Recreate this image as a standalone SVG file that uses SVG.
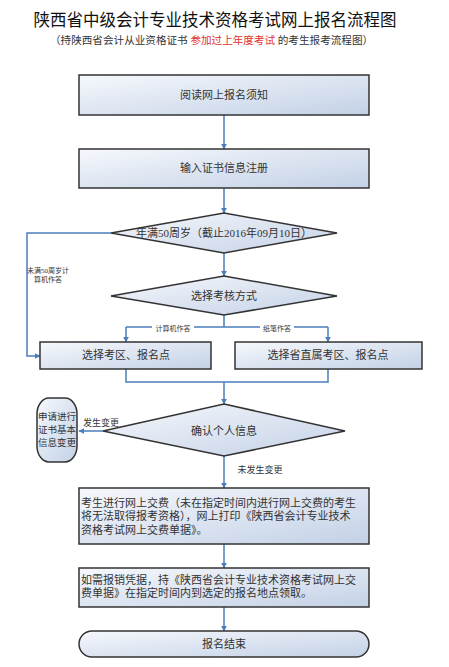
<svg xmlns="http://www.w3.org/2000/svg" width="449" height="667" viewBox="0 0 449 667">
<defs>
<linearGradient id="g" x1="0" y1="0" x2="1" y2="1">
<stop offset="0" stop-color="#f6f8fc"/>
<stop offset="1" stop-color="#c3d1e6"/>
</linearGradient>
<marker id="a" viewBox="0 0 10 10" refX="9" refY="5" markerWidth="4" markerHeight="4" orient="auto">
<path d="M0,0 L10,5 L0,10 z" fill="#4a7ebb"/>
</marker>
</defs>
<style>
.n{fill:url(#g);stroke:#333;stroke-width:1.5}
.t{font-family:"Liberation Serif","Noto Sans CJK SC",serif;font-size:11px;fill:#333}
.c{text-anchor:middle}
.s{font-family:"Liberation Serif","Noto Sans CJK SC",serif;font-size:7px;fill:#333}
.l{fill:none;stroke:#4a7ebb;stroke-width:1.5}
.e{marker-end:url(#a)}
</style>
<rect width="449" height="667" fill="#fff"/>
<g id="title">
<text x="215" y="26" class="c" style="font-family:'Liberation Serif','Noto Sans CJK SC',serif;font-size:16.5px;fill:#111">陕西省中级会计专业技术资格考试网上报名流程图</text>
<text x="50" y="44" style="font-family:'Liberation Serif','Noto Sans CJK SC',serif;font-size:10.6px;fill:#333">（持陕西省会计从业资格证书 <tspan fill="#e03030">参加过上年度考试</tspan> 的考生报考流程图）</text>
</g>
<g id="connectors">
<path class="l e" d="M224,115 V149"/>
<path class="l e" d="M224,188 V213"/>
<path class="l e" d="M224,253 V276"/>
<path class="l" d="M224,315 V327 M126,327 H328"/>
<path class="l e" d="M126,327 V342"/>
<path class="l e" d="M328,327 V342"/>
<path class="l e" d="M111,233 H27 V356 H40"/>
<path class="l" d="M126,369 V382 H328 V369"/>
<path class="l e" d="M224,382 V404"/>
<path class="l e" d="M103,431 H79"/>
<path class="l e" d="M224,456 V488"/>
<path class="l e" d="M224,544 V568"/>
<path class="l e" d="M224,607 V631"/>
<rect x="152" y="323" width="42" height="9" fill="#fff"/>
<text x="173" y="330.5" class="s c">计算机作答</text>
<rect x="260" y="323" width="34" height="9" fill="#fff"/>
<text x="277" y="330.5" class="s c">纸笔作答</text>
<text x="48" y="273" class="s c">未满50周岁计</text>
<text x="48" y="282" class="s c">算机作答</text>
<text x="101" y="426" class="c" style="font-family:'Liberation Serif','Noto Sans CJK SC',serif;font-size:9px;fill:#333">发生变更</text>
<text x="260" y="473" class="c" style="font-family:'Liberation Serif','Noto Sans CJK SC',serif;font-size:9px;fill:#333">未发生变更</text>
</g>
<g id="n1">
<rect class="n" x="79" y="75" width="290" height="40"/>
<text x="224" y="99" class="t c">阅读网上报名须知</text>
</g>
<g id="n2">
<rect class="n" x="79" y="149" width="290" height="39"/>
<text x="224" y="172" class="t c">输入证书信息注册</text>
</g>
<g id="n3">
<path class="n" d="M224,213 L337,233 L224,253 L111,233 z"/>
<text x="224" y="237" class="t c">年满50周岁（截止2016年09月10日）</text>
</g>
<g id="n4">
<path class="n" d="M224,276 L337,296 L224,315 L111,296 z"/>
<text x="224" y="300" class="t c">选择考核方式</text>
</g>
<g id="n5">
<rect class="n" x="40" y="342" width="171" height="27"/>
<text x="126" y="359" class="t c">选择考区、报名点</text>
</g>
<g id="n6">
<rect class="n" x="235" y="342" width="187" height="27"/>
<text x="328" y="359" class="t c">选择省直属考区、报名点</text>
</g>
<g id="n7">
<path class="n" d="M224,404 L345,431 L224,456 L103,431 z"/>
<text x="224" y="435" class="t c">确认个人信息</text>
</g>
<g id="n8">
<rect class="n" x="37" y="398" width="40" height="64" rx="12" ry="16"/>
<text x="57" y="420" class="c" style="font-family:'Liberation Serif','Noto Sans CJK SC',serif;font-size:9.5px;fill:#333">申请进行</text>
<text x="57" y="433" class="c" style="font-family:'Liberation Serif','Noto Sans CJK SC',serif;font-size:9.5px;fill:#333">证书基本</text>
<text x="57" y="446" class="c" style="font-family:'Liberation Serif','Noto Sans CJK SC',serif;font-size:9.5px;fill:#333">信息变更</text>
</g>
<g id="n9">
<rect class="n" x="79" y="488" width="290" height="56"/>
<text x="81" y="507" class="t">考生进行网上交费（未在指定时间内进行网上交费的考生</text>
<text x="81" y="520" class="t">将无法取得报考资格），网上打印《陕西省会计专业技术</text>
<text x="81" y="534" class="t">资格考试网上交费单据》。</text>
</g>
<g id="n10">
<rect class="n" x="79" y="568" width="290" height="39"/>
<text x="81" y="584" class="t">如需报销凭据，持《陕西省会计专业技术资格考试网上交</text>
<text x="81" y="597" class="t">费单据》在指定时间内到选定的报名地点领取。</text>
</g>
<g id="n11">
<rect class="n" x="79" y="631" width="290" height="26" rx="13" ry="13"/>
<text x="224" y="648" class="t c">报名结束</text>
</g>
</svg>
